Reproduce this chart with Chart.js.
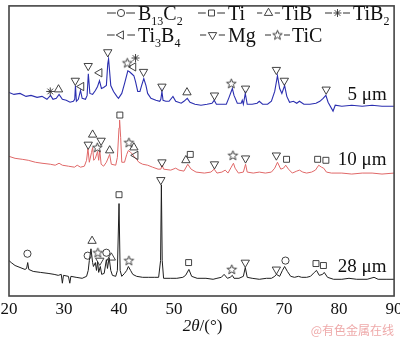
<!DOCTYPE html>
<html>
<head>
<meta charset="utf-8">
<script src="https://cdn.jsdelivr.net/npm/chart.js@4/dist/chart.umd.min.js"></script>
<style>
  html, body { margin: 0; padding: 0; background: #fff; }
  #wrap { width: 400px; height: 341px; }
</style>
</head>
<body>
<div id="wrap"><canvas id="xrd" width="400" height="341"></canvas></div>
<script>
// XRD patterns: [2θ (°), intensity (a.u., each pattern stacked with its own offset)]
const pattern5 = [
  [20.0,207],[20.9,205],[22.0,206],[23.1,203],[24.0,204],[25.1,202],[26.0,203],[26.9,200],[27.55,204],[28.0,200],
  [28.6,201],[29.1,205],[29.7,200],[30.4,199],[31.1,197],[31.7,198],[31.95,200],[32.08,214],[32.25,198],[32.6,200],
  [33.0,209],[33.3,201],[33.9,200],[34.2,204],[34.42,226],[34.7,206],[35.2,205],[35.7,209],[36.1,213],[36.45,219],
  [36.8,211],[37.2,212],[37.7,214],[37.95,236],[38.1,241],[38.25,231],[38.5,214],[39.0,208],[39.6,203],[39.9,201],
  [40.5,206],[41.0,216],[41.6,229],[41.9,228],[42.3,226],[42.7,224],[43.0,218],[43.4,208],[43.8,208],[44.1,214],
  [44.5,221],[44.9,214],[45.2,206],[45.8,201],[46.7,199],[47.4,198],[47.6,200],[47.8,208],[48.0,199],[48.5,198],
  [49.1,198],[49.8,203],[50.3,198],[51.3,196],[51.8,198],[52.4,201],[52.9,197],[53.8,195],[54.9,194],[56.0,195],
  [56.9,196],[57.3,199],[57.7,195],[58.6,195],[59.5,195],[60.0,202],[60.6,211],[60.9,204],[61.5,196],[62.2,196],
  [62.4,199],[62.6,195],[62.95,206],[63.3,195],[64.2,195],[65.1,196],[65.5,198],[66.1,195],[67.0,195],[67.7,198],
  [68.3,208],[68.8,224],[69.2,211],[69.6,206],[70.1,214],[70.5,203],[71.0,197],[71.7,198],[72.3,196],[72.8,198],
  [73.6,195],[74.7,195],[75.8,196],[76.5,198],[77.1,201],[77.6,204],[78.0,197],[78.9,188],[79.3,194],[80.5,193],
  [82.3,194],[84.2,193],[86.0,194],[87.8,193],[90.0,193]
];
const pattern10 = [
  [20.0,142],[21.1,140],[22.4,139],[23.5,138],[24.8,136],[26.0,135],[27.5,134],[28.4,133],[29.1,135],[29.7,133],
  [30.8,132],[31.9,131],[32.4,133],[33.0,131],[33.7,132],[34.1,138],[34.35,150],[34.6,136],[35.0,146],[35.2,151],
  [35.4,138],[35.7,140],[36.1,147],[36.3,138],[36.5,148],[36.75,134],[37.2,132],[37.7,136],[38.3,144],[38.6,134],
  [39.4,133],[39.7,141],[40.0,171],[40.1,179],[40.3,161],[40.5,136],[41.0,136],[41.4,144],[41.7,148],[42.1,146],
  [42.5,144],[42.8,141],[43.2,139],[43.6,136],[44.3,134],[45.2,133],[46.1,131],[47.1,129],[47.6,129],[47.85,133],
  [48.1,129],[49.4,128],[50.3,130],[50.9,128],[51.8,127],[52.5,134],[53.1,129],[54.0,126],[55.5,125],[56.7,126],
  [57.3,129],[57.8,125],[58.7,126],[59.3,128],[59.8,125],[60.4,131],[60.8,135],[61.1,130],[61.7,125],[62.6,126],
  [63.0,134],[63.3,126],[64.4,125],[65.5,126],[66.6,125],[67.7,126],[68.3,130],[68.8,136],[69.4,129],[69.9,130],
  [70.3,133],[70.8,129],[71.5,125],[72.3,127],[72.8,128],[73.4,126],[74.1,125],[75.0,126],[75.7,128],[76.3,133],
  [76.8,131],[77.2,130],[77.7,126],[78.6,125],[80.5,125],[82.3,124],[84.2,125],[86.0,125],[87.8,124],[90.0,125]
];
const pattern28 = [
  [20.0,36],[20.4,34],[21.1,31],[22.0,29],[22.9,27],[23.2,28],[23.4,34],[23.6,27],[24.4,25],[25.7,24],
  [27.1,23],[28.2,22],[28.95,21],[29.5,22],[29.7,13],[29.9,21],[30.8,20],[31.05,13],[31.25,20],[32.2,19],
  [33.3,18],[34.1,20],[34.4,26],[34.6,36],[34.9,48],[35.2,34],[35.35,30],[35.7,34],[35.9,26],[36.1,35],
  [36.3,24],[36.6,30],[36.85,22],[37.3,23],[37.7,37],[37.9,28],[38.2,39],[38.5,26],[38.8,21],[39.4,20],
  [39.7,26],[40.0,94],[40.2,26],[40.5,20],[41.0,23],[41.4,26],[41.7,30],[42.1,26],[42.5,22],[43.2,20],
  [44.3,19],[45.4,19],[46.5,19],[47.2,19],[47.55,36],[47.7,113],[47.85,36],[48.1,18],[49.4,18],[50.5,18],
  [51.6,19],[52.1,21],[52.7,27],[53.2,20],[54.2,18],[55.8,18],[57.1,17],[57.8,18],[58.6,19],[59.1,22],
  [59.7,18],[60.2,19],[60.6,21],[60.9,18],[61.8,18],[62.6,20],[62.95,29],[63.3,19],[64.2,18],[65.5,17],
  [66.8,18],[67.7,18],[68.3,20],[68.6,22],[69.2,20],[69.7,26],[70.1,30],[70.6,25],[71.2,20],[71.9,19],
  [72.6,20],[73.2,19],[74.1,19],[74.8,20],[75.5,24],[75.9,26],[76.4,21],[77.0,22],[77.3,24],[77.9,19],
  [79.0,17],[80.5,17],[81.8,18],[83.2,17],[85.1,17],[86.35,19],[87.1,17],[88.7,17],[90.0,17]
];

// Phase identification marks: [2θ, height of the mark above its peak]
const peaksB13C2 = [[23.35,43],[34.3,41],[37.7,44],[70.25,36]];
const peaksTi    = [[40.15,184],[52.95,144],[70.45,139],[76.1,139],[77.6,138],
                    [40.0,103],[52.65,34],[75.8,33],[77.15,31]];
const peaksTiB   = [[29.0,210],[52.35,207],[35.2,164],[38.3,148],[42.7,151],[52.15,138],
                    [35.1,56],[38.6,39]];
const peaksTiB2  = [[27.5,208],[43.0,242]];
const peaksTi3B4 = [[33.15,213],[36.45,227],[42.6,233],[43.0,143]];
const peaksMg    = [[32.05,219],[34.4,234],[37.95,248],[44.45,228],[47.8,213],[57.35,204],[63.0,211],
                    [68.6,230],[70.05,219],[77.65,210],
                    [34.4,154],[36.75,158],[47.8,136],[57.35,134],[63.0,140],[68.6,143],
                    [36.5,36],[47.6,118],[62.95,34],[68.6,27]];
const peaksTiC   = [[41.5,237],[60.4,216],[36.05,151],[41.8,156],[60.7,143],
                    [36.15,44],[41.8,36],[60.5,27]];

const xTicks = [20, 30, 40, 50, 60, 70, 80, 90];
const sampleLabels = ['5 μm', '10 μm', '28 μm'];
const sampleLabelPos = [[85.1, 199], [84.2, 133], [84.2, 24]];

const SERIF = '"Liberation Serif", "Times New Roman", serif';
const INK = '#2e2e2e';

// five-pointed open star used for TiC
function makeStar() {
  const c = document.createElement('canvas');
  c.width = 13; c.height = 13;
  const g = c.getContext('2d');
  g.strokeStyle = INK; g.lineWidth = 0.9;
  g.beginPath();
  for (let i = 0; i < 10; i++) {
    const r = i % 2 === 0 ? 5.0 : 2.1;
    const a = -Math.PI / 2 + i * Math.PI / 5;
    const px = 6.5 + r * Math.cos(a), py = 6.8 + r * Math.sin(a);
    if (i === 0) g.moveTo(px, py); else g.lineTo(px, py);
  }
  g.closePath(); g.stroke();
  return c;
}
const starImg = makeStar();

const phases = [
  { name: [['B'], ['13', 1], ['C'], ['2', 1]], data: peaksB13C2, style: 'circle', rot: 0, r: 3.6 },
  { name: [['Ti']], data: peaksTi, style: 'rect', rot: 0, r: 4.2 },
  { name: [['TiB']], data: peaksTiB, style: 'triangle', rot: 0, r: 4.8 },
  { name: [['TiB'], ['2', 1]], data: peaksTiB2, style: 'star', rot: 0, r: 4.0 },
  { name: [['Ti'], ['3', 1], ['B'], ['4', 1]], data: peaksTi3B4, style: 'triangle', rot: 270, r: 4.8 },
  { name: [['Mg']], data: peaksMg, style: 'triangle', rot: 180, r: 4.8 },
  { name: [['TiC']], data: peaksTiC, style: starImg, rot: 0, r: 5 }
];

const toXY = pairs => pairs.map(([x, y]) => ({ x, y }));
const traceSet = (pairs, color, width) => ({
  type: 'line', data: toXY(pairs), borderColor: color, borderWidth: width,
  pointRadius: 0, tension: 0, fill: false, order: 2
});
const markSet = p => ({
  type: 'line', data: toXY(p.data), showLine: false, pointStyle: p.style,
  pointRotation: p.rot, pointRadius: p.r, pointBorderColor: INK,
  pointBackgroundColor: 'rgba(0,0,0,0)', pointBorderWidth: 0.9, order: 1
});

// text with subscripts
function rich(ctx, parts, x, y, size) {
  let cx = x;
  for (const [t, sub] of parts) {
    const s = sub ? Math.round(size * 0.62) : size;
    ctx.font = s + 'px ' + SERIF;
    ctx.fillText(t, cx, y + (sub ? size * 0.26 : 0));
    cx += ctx.measureText(t).width;
  }
}

// legend layout: [lineStart, lineEnd, textX, rowY]
const legendSlots = [
  [107, 135, 138, 13], [198, 225, 228, 13], [257, 280, 282, 13], [325, 350, 353, 13],
  [107, 135, 138, 35], [200, 225, 228, 35], [265, 290, 292, 35]
];

const decor = {
  id: 'decor',
  afterDatasetsDraw(chart) {
    const { ctx, chartArea: a, scales: { x, y } } = chart;
    ctx.save();
    // frame
    ctx.strokeStyle = '#444'; ctx.lineWidth = 1.6;
    ctx.strokeRect(a.left, a.top, a.right - a.left, a.bottom - a.top);

    // legend
    ctx.fillStyle = '#111'; ctx.textBaseline = 'alphabetic'; ctx.textAlign = 'left';
    phases.forEach((p, i) => {
      const [x0, x1, tx, ry] = legendSlots[i];
      const xc = (x0 + x1) / 2;
      const gap = p.r + 1.5;
      ctx.strokeStyle = INK; ctx.lineWidth = 1;
      ctx.beginPath();
      ctx.moveTo(x0, ry); ctx.lineTo(xc - gap, ry);
      ctx.moveTo(xc + gap, ry); ctx.lineTo(x1, ry);
      ctx.stroke();
      ctx.strokeStyle = INK; ctx.fillStyle = 'rgba(0,0,0,0)'; ctx.lineWidth = 0.9;
      Chart.helpers.drawPoint(ctx, { pointStyle: p.style, rotation: p.rot, radius: p.r, borderWidth: 0.9 }, xc, ry);
      ctx.fillStyle = '#111';
      rich(ctx, p.name, tx, ry + 7, 20);
    });

    // sample labels
    ctx.font = '19px ' + SERIF; ctx.textAlign = 'center'; ctx.fillStyle = '#111';
    sampleLabels.forEach((t, i) => {
      const [tx, ty] = sampleLabelPos[i];
      ctx.fillText(t, x.getPixelForValue(tx), y.getPixelForValue(ty));
    });

    // axis title 2θ/(°)
    ctx.textAlign = 'left';
    const size = 17;
    ctx.font = 'italic ' + size + 'px ' + SERIF;
    const w1 = ctx.measureText('2θ').width;
    ctx.font = size + 'px ' + SERIF;
    const w2 = ctx.measureText('/(°)').width;
    const cx = (a.left + a.right) / 2 - (w1 + w2) / 2 + 1;
    ctx.font = 'italic ' + size + 'px ' + SERIF;
    ctx.fillText('2θ', cx, 331);
    ctx.font = size + 'px ' + SERIF;
    ctx.fillText('/(°)', cx + w1, 331);

    // site mark
    ctx.font = '12px "Noto Sans CJK SC", sans-serif';
    ctx.textAlign = 'right';
    ctx.fillStyle = 'rgba(232,140,140,0.75)';
    ctx.fillText('@有色金属在线', 394, 335);
    ctx.restore();
  }
};

new Chart(document.getElementById('xrd'), {
  type: 'line',
  data: {
    datasets: [
      traceSet(pattern5, '#2b2fb0', 1.1),
      traceSet(pattern10, '#e06868', 1.0),
      traceSet(pattern28, '#1e1e1e', 1.0),
      ...phases.map(markSet)
    ]
  },
  options: {
    responsive: false,
    animation: false,
    devicePixelRatio: 1,
    events: [],
    layout: { padding: { left: 9, right: 4, top: 1, bottom: 0 } },
    plugins: { legend: { display: false }, tooltip: { enabled: false } },
    scales: {
      x: {
        type: 'linear', min: 20, max: 90,
        afterBuildTicks: s => { s.ticks = xTicks.map(v => ({ value: v })); },
        ticks: { font: { family: SERIF, size: 17 }, color: '#111', padding: -5, maxRotation: 0 },
        grid: { display: false },
        border: { display: false },
        afterFit: s => { s.height = 45; }
      },
      y: { display: false, min: 0, max: 295 }
    }
  },
  plugins: [decor]
});
</script>
</body>
</html>
